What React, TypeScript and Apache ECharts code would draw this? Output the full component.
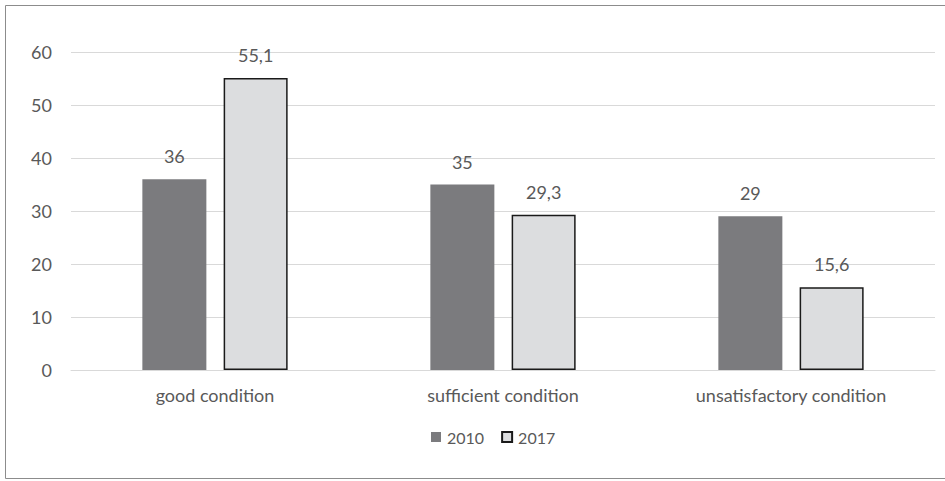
import React, { useEffect, useRef } from "react";
import * as echarts from "echarts";

const categories = ["good condition", "sufficient condition", "unsatisfactory condition"];
const values2010 = [36, 35, 29];
const values2017 = [55.1, 29.3, 15.6];
const yTicks = { min: 0, max: 60, interval: 10 };

const TEXT = "#595959";
const FONT = "Lato, 'Open Sans', sans-serif";
const FS = 18;

const fmt = (v: number) => String(v).replace(".", ",");

export default function App() {
  const ref = useRef<HTMLDivElement>(null);

  useEffect(() => {
    if (!ref.current) return;
    const chart = echarts.init(ref.current, null, { renderer: "svg" });
    const label = {
      show: true,
      position: "top",
      distance: 14,
      color: TEXT,
      fontSize: FS,
      fontFamily: FONT,
      formatter: (p: any) => fmt(p.value),
    };
    chart.setOption({
      animation: false,
      backgroundColor: "#ffffff",
      textStyle: { fontFamily: FONT, color: TEXT },
      graphic: [
        {
          type: "rect",
          shape: { x: 5.5, y: 5.5, width: 950, height: 473 },
          style: { fill: "none", stroke: "#8c8c8c", lineWidth: 1 },
          silent: true,
        },
      ],
      grid: { left: 71, right: 10, top: 52, bottom: 111 },
      legend: {
        bottom: 31,
        left: 426,
        icon: "rect",
        itemWidth: 10,
        itemHeight: 10,
        itemGap: 17,
        textStyle: { fontFamily: FONT, color: TEXT, fontSize: 16, padding: [0, 0, 0, 1] },
        data: ["2010", "2017"],
      },
      xAxis: {
        type: "category",
        data: categories,
        axisTick: { show: false },
        axisLine: { lineStyle: { color: "#d9d9d9", width: 1 } },
        axisLabel: { color: TEXT, fontSize: FS, margin: 16, fontFamily: FONT },
      },
      yAxis: {
        type: "value",
        min: yTicks.min,
        max: yTicks.max,
        interval: yTicks.interval,
        axisLine: { show: false },
        axisTick: { show: false },
        splitLine: { lineStyle: { color: "#d9d9d9", width: 1 } },
        axisLabel: { color: TEXT, fontSize: FS, margin: 19, fontFamily: FONT },
      },
      series: [
        {
          name: "2010",
          type: "bar",
          data: values2010,
          barWidth: 64,
          barGap: "27%",
          itemStyle: { color: "#7b7b7e" },
          label,
        },
        {
          name: "2017",
          type: "bar",
          data: values2017,
          barWidth: 64,
          itemStyle: { color: "#dcdddf", borderColor: "#1a1a1a", borderWidth: 1.5 },
          label,
        },
      ],
    });
    return () => chart.dispose();
  }, []);

  return (
    <div
      ref={ref}
      style={{ position: "fixed", left: 0, top: 0, width: 945, height: 481 }}
    />
  );
}
